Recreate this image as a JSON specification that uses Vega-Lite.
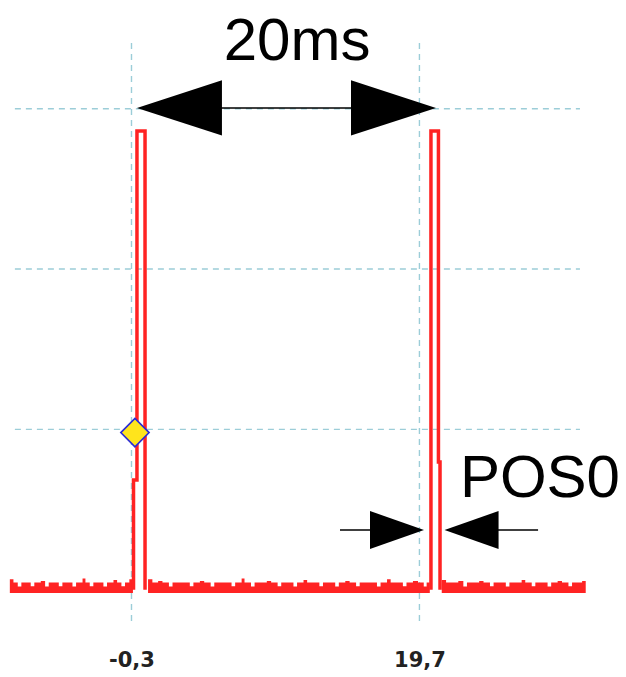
{
  "$schema": "https://vega.github.io/schema/vega-lite/v6.json",
  "width": 573,
  "height": 582,
  "autosize": {"type": "none"},
  "padding": {"left": 12, "top": 43, "right": 41, "bottom": 52},
  "background": "white",
  "config": {"view": {"stroke": null}},
  "encoding": {
    "x": {
      "field": "x", "type": "quantitative",
      "scale": {"domain": [-8.6, 31.2], "nice": false, "zero": false},
      "axis": {
        "values": [-0.3, 19.7],
        "labelExpr": "datum.value < 0 ? '-' + replace(format(-datum.value, '.1f'), '.', ',') : replace(format(datum.value, '.1f'), '.', ',')",
        "grid": false, "ticks": false, "domain": false, "title": null,
        "labelFont": "DejaVu Sans", "labelFontSize": 21, "labelFontWeight": "bold",
        "labelColor": "#222222", "labelPadding": 24
      }
    },
    "y": {
      "field": "y", "type": "quantitative",
      "scale": {"domain": [-0.22, 3.41], "nice": false, "zero": false},
      "axis": null
    }
  },
  "layer": [
    {
      "data": {"values": [{"x": -8.4, "x2": 30.85, "y": 1}, {"x": -8.4, "x2": 30.85, "y": 2}, {"x": -8.4, "x2": 30.85, "y": 3}]},
      "mark": {"type": "rule", "color": "#9ccdd8", "strokeWidth": 1.4, "strokeDash": [6, 5]},
      "encoding": {"x2": {"field": "x2"}}
    },
    {
      "data": {"values": [{"x": -0.3, "y": 3.41, "y2": -0.22}, {"x": 19.7, "y": 3.41, "y2": -0.22}]},
      "mark": {"type": "rule", "color": "#9ccdd8", "strokeWidth": 1.4, "strokeDash": [6, 5]},
      "encoding": {"y2": {"field": "y2"}}
    },
    {
      "data": {"values": [
        {"seg": "A", "x": -8.75, "y": 0.065}, {"seg": "A", "x": -8.5, "y": 0.045}, {"seg": "A", "x": -8.2, "y": 0.02}, {"seg": "A", "x": -7.95, "y": 0.045},
        {"seg": "A", "x": -7.55, "y": 0.045}, {"seg": "A", "x": -7.3, "y": 0.022}, {"seg": "A", "x": -7.05, "y": 0.045}, {"seg": "A", "x": -6.6, "y": 0.055},
        {"seg": "A", "x": -6.3, "y": 0.02}, {"seg": "A", "x": -6.05, "y": 0.045}, {"seg": "A", "x": -5.6, "y": 0.045}, {"seg": "A", "x": -5.35, "y": 0.022},
        {"seg": "A", "x": -5.1, "y": 0.045}, {"seg": "A", "x": -4.65, "y": 0.045}, {"seg": "A", "x": -4.4, "y": 0.02}, {"seg": "A", "x": -4.15, "y": 0.045},
        {"seg": "A", "x": -3.7, "y": 0.07}, {"seg": "A", "x": -3.5, "y": 0.045}, {"seg": "A", "x": -3.2, "y": 0.022}, {"seg": "A", "x": -2.95, "y": 0.045},
        {"seg": "A", "x": -2.5, "y": 0.045}, {"seg": "A", "x": -2.25, "y": 0.02}, {"seg": "A", "x": -2.0, "y": 0.045}, {"seg": "A", "x": -1.55, "y": 0.06},
        {"seg": "A", "x": -1.3, "y": 0.045}, {"seg": "A", "x": -1.0, "y": 0.022}, {"seg": "A", "x": -0.75, "y": 0.045}, {"seg": "A", "x": -0.45, "y": 0.065},
        {"seg": "A", "x": -0.2, "y": 0.045},
        {"seg": "B", "x": 0.85, "y": 0.065}, {"seg": "B", "x": 1.15, "y": 0.045}, {"seg": "B", "x": 1.55, "y": 0.055}, {"seg": "B", "x": 1.85, "y": 0.045},
        {"seg": "B", "x": 2.3, "y": 0.02}, {"seg": "B", "x": 2.55, "y": 0.045}, {"seg": "B", "x": 3.0, "y": 0.045}, {"seg": "B", "x": 3.4, "y": 0.045},
        {"seg": "B", "x": 3.75, "y": 0.022}, {"seg": "B", "x": 4.0, "y": 0.045}, {"seg": "B", "x": 4.45, "y": 0.055}, {"seg": "B", "x": 4.75, "y": 0.045},
        {"seg": "B", "x": 5.2, "y": 0.02}, {"seg": "B", "x": 5.45, "y": 0.045}, {"seg": "B", "x": 5.9, "y": 0.045}, {"seg": "B", "x": 6.3, "y": 0.045},
        {"seg": "B", "x": 6.65, "y": 0.022}, {"seg": "B", "x": 6.9, "y": 0.045}, {"seg": "B", "x": 7.35, "y": 0.07}, {"seg": "B", "x": 7.55, "y": 0.045},
        {"seg": "B", "x": 8.0, "y": 0.02}, {"seg": "B", "x": 8.25, "y": 0.045}, {"seg": "B", "x": 8.7, "y": 0.045}, {"seg": "B", "x": 9.1, "y": 0.055},
        {"seg": "B", "x": 9.4, "y": 0.045}, {"seg": "B", "x": 9.85, "y": 0.022}, {"seg": "B", "x": 10.1, "y": 0.045}, {"seg": "B", "x": 10.55, "y": 0.045},
        {"seg": "B", "x": 10.95, "y": 0.02}, {"seg": "B", "x": 11.2, "y": 0.045}, {"seg": "B", "x": 11.65, "y": 0.06}, {"seg": "B", "x": 11.9, "y": 0.045},
        {"seg": "B", "x": 12.35, "y": 0.045}, {"seg": "B", "x": 12.75, "y": 0.022}, {"seg": "B", "x": 13.0, "y": 0.045}, {"seg": "B", "x": 13.45, "y": 0.045},
        {"seg": "B", "x": 13.85, "y": 0.02}, {"seg": "B", "x": 14.1, "y": 0.045}, {"seg": "B", "x": 14.55, "y": 0.055}, {"seg": "B", "x": 14.85, "y": 0.045},
        {"seg": "B", "x": 15.3, "y": 0.022}, {"seg": "B", "x": 15.55, "y": 0.045}, {"seg": "B", "x": 16.0, "y": 0.045}, {"seg": "B", "x": 16.4, "y": 0.045},
        {"seg": "B", "x": 16.75, "y": 0.02}, {"seg": "B", "x": 17.0, "y": 0.045}, {"seg": "B", "x": 17.45, "y": 0.065}, {"seg": "B", "x": 17.7, "y": 0.045},
        {"seg": "B", "x": 18.15, "y": 0.045}, {"seg": "B", "x": 18.55, "y": 0.022}, {"seg": "B", "x": 18.8, "y": 0.045}, {"seg": "B", "x": 19.25, "y": 0.055},
        {"seg": "B", "x": 19.6, "y": 0.045}, {"seg": "B", "x": 20.0, "y": 0.02}, {"seg": "B", "x": 20.2, "y": 0.045}, {"seg": "B", "x": 20.42, "y": 0.045},
        {"seg": "C", "x": 21.25, "y": 0.06}, {"seg": "C", "x": 21.55, "y": 0.045}, {"seg": "C", "x": 22.0, "y": 0.045}, {"seg": "C", "x": 22.4, "y": 0.055},
        {"seg": "C", "x": 22.75, "y": 0.02}, {"seg": "C", "x": 23.0, "y": 0.045}, {"seg": "C", "x": 23.45, "y": 0.045}, {"seg": "C", "x": 23.85, "y": 0.055},
        {"seg": "C", "x": 24.15, "y": 0.045}, {"seg": "C", "x": 24.6, "y": 0.022}, {"seg": "C", "x": 24.85, "y": 0.045}, {"seg": "C", "x": 25.3, "y": 0.045},
        {"seg": "C", "x": 25.7, "y": 0.02}, {"seg": "C", "x": 25.95, "y": 0.045}, {"seg": "C", "x": 26.4, "y": 0.045}, {"seg": "C", "x": 26.8, "y": 0.06},
        {"seg": "C", "x": 27.05, "y": 0.045}, {"seg": "C", "x": 27.5, "y": 0.022}, {"seg": "C", "x": 27.75, "y": 0.045}, {"seg": "C", "x": 28.2, "y": 0.045},
        {"seg": "C", "x": 28.6, "y": 0.02}, {"seg": "C", "x": 28.85, "y": 0.045}, {"seg": "C", "x": 29.3, "y": 0.055}, {"seg": "C", "x": 29.6, "y": 0.045},
        {"seg": "C", "x": 30.05, "y": 0.022}, {"seg": "C", "x": 30.3, "y": 0.045}, {"seg": "C", "x": 30.75, "y": 0.045}, {"seg": "C", "x": 31.0, "y": 0.055},
        {"seg": "C", "x": 31.25, "y": 0.045}
      ]},
      "mark": {"type": "area", "color": "#ff2323", "interpolate": "step-after", "opacity": 1},
      "encoding": {"y2": {"datum": -0.02}, "detail": {"field": "seg"}}
    },
    {
      "data": {"values": [
        {"p": 1, "i": 1, "x": -0.16, "y": 0.0}, {"p": 1, "i": 2, "x": -0.16, "y": 0.684}, {"p": 1, "i": 3, "x": 0.08, "y": 0.684},
        {"p": 1, "i": 4, "x": 0.08, "y": 2.861}, {"p": 1, "i": 5, "x": 0.64, "y": 2.861}, {"p": 1, "i": 6, "x": 0.64, "y": 0.0},
        {"p": 2, "i": 7, "x": 20.5, "y": 0.0}, {"p": 2, "i": 8, "x": 20.5, "y": 2.861}, {"p": 2, "i": 9, "x": 21.02, "y": 2.861},
        {"p": 2, "i": 10, "x": 21.02, "y": 0.797}, {"p": 2, "i": 11, "x": 21.13, "y": 0.797}, {"p": 2, "i": 12, "x": 21.13, "y": 0.0}
      ]},
      "mark": {"type": "line", "color": "#ff2323", "strokeWidth": 3.5, "strokeJoin": "miter", "strokeCap": "butt"},
      "encoding": {"detail": {"field": "p"}, "order": {"field": "i", "type": "quantitative"}}
    },
    {
      "data": {"values": [{"x": 3.0, "x2": 18.0, "y": 3.005}, {"x": 14.18, "x2": 17.0, "y": 0.3725}, {"x": 22.8, "x2": 27.94, "y": 0.3725}]},
      "mark": {"type": "rule", "color": "black", "strokeWidth": 1.6},
      "encoding": {"x2": {"field": "x2"}}
    },
    {
      "data": {"values": [{"x": 3.03, "y": 3.005}]},
      "mark": {"type": "point", "shape": "M1,-0.65L-1,0L1,0.65Z", "filled": true, "color": "black", "opacity": 1, "size": 7225}
    },
    {
      "data": {"values": [{"x": 17.9, "y": 3.005}]},
      "mark": {"type": "point", "shape": "M-1,-0.65L1,0L-1,0.65Z", "filled": true, "color": "black", "opacity": 1, "size": 7225}
    },
    {
      "data": {"values": [{"x": 18.14, "y": 0.3725}]},
      "mark": {"type": "point", "shape": "M-1,-0.7L1,0L-1,0.7Z", "filled": true, "color": "black", "opacity": 1, "size": 2916}
    },
    {
      "data": {"values": [{"x": 23.32, "y": 0.3725}]},
      "mark": {"type": "point", "shape": "M1,-0.7L-1,0L1,0.7Z", "filled": true, "color": "black", "opacity": 1, "size": 2916}
    },
    {
      "data": {"values": [{"x": -0.06, "y": 0.98}]},
      "mark": {"type": "point", "shape": "diamond", "filled": true, "fill": "#ffe41c", "stroke": "#2a2ad6", "strokeWidth": 1.6, "opacity": 1, "size": 800}
    },
    {
      "data": {"values": [{"x": 11.2, "y": 3.304, "label": "20ms"}, {"x": 28.07, "y": 0.578, "label": "POS0"}]},
      "mark": {"type": "text", "font": "Liberation Sans", "fontSize": 60, "align": "center", "baseline": "alphabetic", "color": "black"},
      "encoding": {"text": {"field": "label"}}
    }
  ]
}
